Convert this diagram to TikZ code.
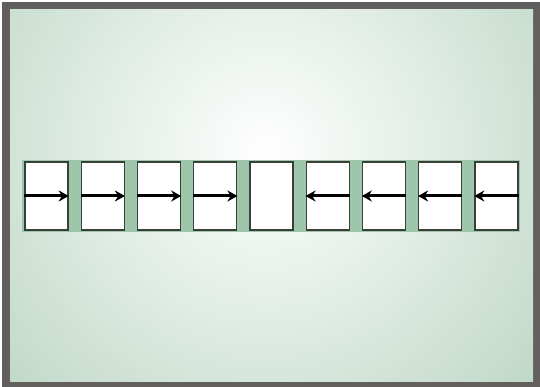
\documentclass[tikz,border=0pt]{standalone}
\usetikzlibrary{arrows.meta}
\definecolor{framegrey}{RGB}{98,95,95}
\definecolor{paleGreen}{RGB}{162,198,174}
\definecolor{bandGreen}{RGB}{158,198,170}
\definecolor{boxLine}{RGB}{60,62,60}
\tikzset{
  cell/.style={draw=boxLine, fill=white, line width=1.4pt, minimum width=43pt, minimum height=68pt, inner sep=0pt},
  pusharrow/.style={draw=black, line width=3pt, -{Stealth[length=10pt,width=11pt]}}
}
\begin{document}
\begin{tikzpicture}[x=1pt, y=-1pt]
    \useasboundingbox (0,0) rectangle (540,387);
    \fill[framegrey] (2,2) rectangle (540,387);
    \begin{scope}
        \clip (10,10) rectangle (533,381);
        \shade[inner color=white, outer color=paleGreen] (265,150) circle (520);
    \end{scope}
    \fill[bandGreen] (22,160) rectangle (520,232);
    % row of cells
    \foreach \i in {0,...,8}
        \node[cell] (c\i) at (46.5+56.25*\i,196) {};
    \foreach \i in {0,...,3}
        \draw[pusharrow] (c\i.west) -- (c\i.east);
    \foreach \i in {5,...,8}
        \draw[pusharrow] (c\i.east) -- (c\i.west);
\end{tikzpicture}
\end{document}
